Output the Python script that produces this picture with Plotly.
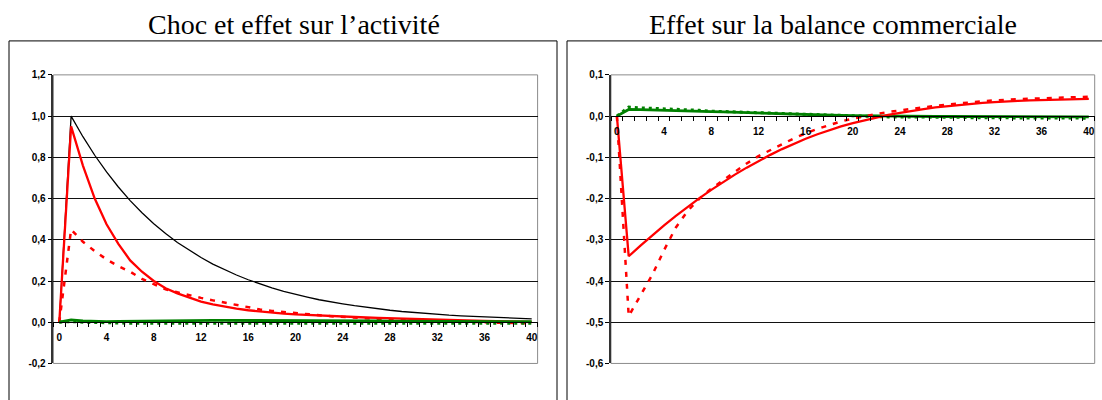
import plotly.graph_objects as go

# ---------------------------------------------------------------- data
periods = list(range(41))

# Choc et effet sur l'activité
choc = [0.000, 1.000, 0.900, 0.810, 0.729, 0.656, 0.590, 0.531, 0.478, 0.430,
        0.387, 0.349, 0.314, 0.282, 0.254, 0.229, 0.206, 0.185, 0.167, 0.150,
        0.135, 0.122, 0.109, 0.098, 0.089, 0.080, 0.072, 0.065, 0.058, 0.052,
        0.047, 0.042, 0.038, 0.034, 0.031, 0.028, 0.025, 0.023, 0.020, 0.018,
        0.016]
act_rouge = [0.000, 0.950, 0.760, 0.600, 0.475, 0.380, 0.300, 0.245, 0.200, 0.165,
             0.140, 0.120, 0.100, 0.087, 0.076, 0.066, 0.058, 0.052, 0.047, 0.042,
             0.038, 0.035, 0.032, 0.029, 0.027, 0.025, 0.023, 0.021, 0.019, 0.017,
             0.016, 0.014, 0.012, 0.011, 0.009, 0.008, 0.006, 0.005, 0.004, 0.002,
             0.001]
act_rouge_pt = [0.000, 0.450, 0.390, 0.345, 0.305, 0.272, 0.245, 0.210, 0.185, 0.160,
                0.145, 0.130, 0.118, 0.106, 0.095, 0.085, 0.073, 0.062, 0.055, 0.049,
                0.043, 0.038, 0.034, 0.029, 0.025, 0.022, 0.019, 0.016, 0.013, 0.011,
                0.009, 0.007, 0.005, 0.003, 0.002, 0.000, -0.001, -0.002, -0.003, -0.004,
                -0.005]
act_vert = [0.000, 0.011, 0.006, 0.003, 0.003, 0.004, 0.005, 0.006, 0.007, 0.008,
            0.008, 0.009, 0.009, 0.009, 0.009, 0.009, 0.009, 0.009, 0.008, 0.008,
            0.008, 0.008, 0.007, 0.007, 0.007, 0.006, 0.006, 0.006, 0.005, 0.005,
            0.005, 0.005, 0.004, 0.004, 0.004, 0.004, 0.003, 0.003, 0.003, 0.003,
            0.003]
act_vert_pt = [0.000, 0.003, 0.000, -0.002, -0.003, -0.004, -0.005, -0.005, -0.005, -0.006,
               -0.006, -0.006, -0.006, -0.006, -0.006, -0.006, -0.006, -0.006, -0.006, -0.006,
               -0.006, -0.006, -0.006, -0.006, -0.006, -0.006, -0.006, -0.006, -0.006, -0.006,
               -0.006, -0.006, -0.006, -0.005, -0.005, -0.005, -0.005, -0.005, -0.005, -0.005,
               -0.005]

# Effet sur la balance commerciale
bal_rouge = [0.000, -0.340, -0.314, -0.289, -0.265, -0.242, -0.220, -0.199, -0.179, -0.160,
             -0.142, -0.125, -0.109, -0.094, -0.080, -0.067, -0.055, -0.044, -0.034, -0.025,
             -0.017, -0.010, -0.003, 0.003, 0.008, 0.013, 0.017, 0.021, 0.024, 0.027,
             0.030, 0.032, 0.034, 0.036, 0.037, 0.038, 0.039, 0.040, 0.041, 0.041,
             0.042]
bal_rouge_pt = [0.000, -0.485, -0.435, -0.385, -0.325, -0.270, -0.230, -0.200, -0.176, -0.155,
                -0.135, -0.115, -0.097, -0.082, -0.068, -0.054, -0.042, -0.031, -0.022, -0.013,
                -0.006, 0.000, 0.005, 0.010, 0.014, 0.018, 0.022, 0.025, 0.028, 0.031,
                0.034, 0.036, 0.038, 0.040, 0.041, 0.042, 0.043, 0.044, 0.045, 0.046,
                0.047]
bal_vert = [0.000, 0.016, 0.0155, 0.015, 0.0145, 0.014, 0.013, 0.012, 0.011, 0.010,
            0.009, 0.008, 0.007, 0.006, 0.005, 0.004, 0.003, 0.0025, 0.002, 0.0015,
            0.001, 0.0005, 0.000, 0.000, -0.0005, -0.0005, -0.001, -0.001, -0.001, -0.001,
            -0.0015, -0.0015, -0.0015, -0.0015, -0.002, -0.002, -0.002, -0.002, -0.002, -0.002,
            -0.002]
bal_vert_pt = [0.000, 0.022, 0.020, 0.019, 0.018, 0.016, 0.015, 0.014, 0.012, 0.011,
               0.010, 0.009, 0.008, 0.007, 0.006, 0.005, 0.004, 0.003, 0.002, 0.001,
               0.000, -0.001, -0.001, -0.002, -0.002, -0.002, -0.003, -0.003, -0.003, -0.003,
               -0.004, -0.004, -0.004, -0.004, -0.004, -0.005, -0.005, -0.005, -0.005, -0.005,
               -0.005]

x_tick_vals = [0, 4, 8, 12, 16, 20, 24, 28, 32, 36, 40]
x_tick_text = ["0", "4", "8", "12", "16", "20", "24", "28", "32", "36", "40"]
left_y_vals = [-0.2, 0.0, 0.2, 0.4, 0.6, 0.8, 1.0, 1.2]
left_y_text = ["-0,2", "0,0", "0,2", "0,4", "0,6", "0,8", "1,0", "1,2"]
right_y_vals = [-0.6, -0.5, -0.4, -0.3, -0.2, -0.1, 0.0, 0.1]
right_y_text = ["-0,6", "-0,5", "-0,4", "-0,3", "-0,2", "-0,1", "0,0", "0,1"]

titles = ["Choc et effet sur l\u2019activit\u00e9", "Effet sur la balance commerciale"]

# ---------------------------------------------------------------- layout
W, H = 1102, 400
RED, GREEN = "#ff0000", "#008000"
y_dom = [1 - 368.5 / H, 1 - 71 / H]
left_dom = [53.4 / W, 537.6 / W]
right_dom = [611 / W, 1094.7 / W]
left_range = [-0.2, 1.2]
right_range = [-0.6, 0.1]


def zero_pos(rng):
    """Paper y position of value 0 on a y axis with the common domain."""
    return y_dom[0] + (0 - rng[0]) / (rng[1] - rng[0]) * (y_dom[1] - y_dom[0])


fig = go.Figure()


def add(x_ax, y_ax, ys, color, width, dash):
    fig.add_trace(go.Scatter(
        x=periods, y=ys, mode="lines", xaxis=x_ax, yaxis=y_ax,
        line=dict(color=color, width=width, dash=dash),
        showlegend=False, hoverinfo="skip"))


add("x", "y", choc, "black", 1.3, "solid")
add("x", "y", act_rouge, RED, 2.3, "solid")
add("x", "y", act_rouge_pt, RED, 2.5, "5px,7px")
add("x", "y", act_vert, GREEN, 2.8, "solid")
add("x", "y", act_vert_pt, GREEN, 3, "3px,4px")

add("x2", "y2", bal_vert, GREEN, 2.8, "solid")
add("x2", "y2", bal_vert_pt, GREEN, 3, "3px,4px")
add("x2", "y2", bal_rouge, RED, 2.3, "solid")
add("x2", "y2", bal_rouge_pt, RED, 2.5, "5px,7px")

tick_font = dict(family="Liberation Sans", size=10, color="black", weight="bold")


def x_axis(dom, rng_y):
    return dict(
        domain=dom, range=[-0.5, 40.5], anchor="free", position=zero_pos(rng_y),
        tickmode="array", tickvals=x_tick_vals, ticktext=x_tick_text,
        ticks="outside", ticklen=6, tickcolor="rgba(0,0,0,0)",
        minor=dict(tickmode="linear", tick0=-0.5, dtick=1, ticks="outside",
                   ticklen=4, tickcolor="black", showgrid=False),
        showgrid=False, zeroline=False, showline=True, linecolor="black",
        linewidth=1, tickfont=tick_font, fixedrange=True)


def y_axis(rng, vals, text, anchor):
    return dict(
        domain=y_dom, range=rng, anchor=anchor,
        tickmode="array", tickvals=vals, ticktext=text,
        ticks="outside", ticklen=4, tickcolor="black",
        showgrid=True, gridcolor="#111111", gridwidth=1,
        zeroline=False, showline=True, linecolor="#333333", linewidth=1.5,
        tickfont=tick_font, fixedrange=True)


fig.update_layout(
    width=W, height=H, margin=dict(l=0, r=0, t=0, b=0),
    paper_bgcolor="white", plot_bgcolor="white",
    xaxis=x_axis(left_dom, left_range),
    yaxis=y_axis(left_range, left_y_vals, left_y_text, "x"),
    xaxis2=x_axis(right_dom, right_range),
    yaxis2=y_axis(right_range, right_y_vals, right_y_text, "x2"),
)

# plot-area frames (grey) and outer panel boxes (black)
for xr, yr in (("x domain", "y domain"), ("x2 domain", "y2 domain")):
    fig.add_shape(type="rect", xref=xr, yref=yr, x0=0, x1=1, y0=0, y1=1,
                  line=dict(color="#8c8c8c", width=1), layer="below")
fig.add_shape(type="rect", xref="paper", yref="paper",
              x0=9 / W, x1=557 / W, y0=-0.05, y1=1 - 36 / H,
              line=dict(color="black", width=1))
fig.add_shape(type="rect", xref="paper", yref="paper",
              x0=567 / W, x1=1.05, y0=-0.05, y1=1 - 36 / H,
              line=dict(color="black", width=1))

for title, cx in zip(titles, [294 / W, 833 / W]):
    fig.add_annotation(text=title, x=cx, y=1 - 19 / H, xref="paper", yref="paper",
                       xanchor="center", yanchor="middle", showarrow=False,
                       font=dict(family="Liberation Serif", size=28, color="black"))

fig.write_html("out.html")
